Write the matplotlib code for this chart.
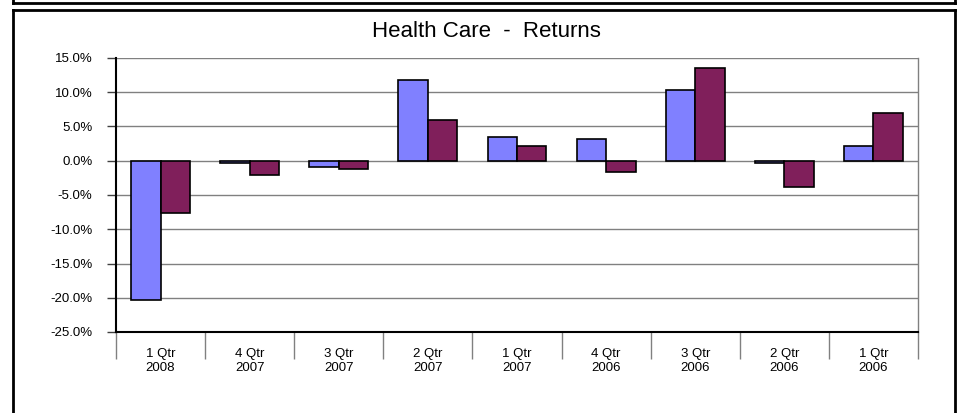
import matplotlib
matplotlib.use("Agg")
import matplotlib.pyplot as plt
from matplotlib.lines import Line2D
import numpy as np

plt.rcParams['font.family'] = ['Liberation Sans', 'DejaVu Sans']

categories = ["1 Qtr\n2008", "4 Qtr\n2007", "3 Qtr\n2007", "2 Qtr\n2007", "1 Qtr\n2007",
              "4 Qtr\n2006", "3 Qtr\n2006", "2 Qtr\n2006", "1 Qtr\n2006"]
series_a = [-20.4, -0.4, -0.9, 11.8, 3.4, 3.2, 10.4, -0.3, 2.2]
series_b = [-7.7, -2.1, -1.25, 6.0, 2.2, -1.6, 13.6, -3.9, 6.9]
yticks = [15, 10, 5, 0, -5, -10, -15, -20, -25]
title = "Health Care  -  Returns"

W, H = 965, 413
fig = plt.figure(figsize=(W/100, H/100), dpi=100)
ax = fig.add_axes([116/W, 1-332/H, (918-116)/W, (332-58)/H])

x = np.arange(len(categories))
bw = 0.33
ax.bar(x - bw/2, series_a, bw, color='#8080FF', edgecolor='black', linewidth=1.2, zorder=3)
ax.bar(x + bw/2, series_b, bw, color='#801F5B', edgecolor='black', linewidth=1.2, zorder=3)

ax.set_xlim(-0.5, len(categories) - 0.5)
ax.set_ylim(-25, 15)
ax.set_yticks(yticks)
ax.set_yticklabels([f"{v:.1f}%" for v in yticks], fontsize=9.5)
ax.yaxis.grid(True, color='#808080', linewidth=1.0, zorder=0)
ax.tick_params(axis='y', length=6.5, width=1.0, color='#404040', pad=10.5)

# category boundaries as major ticks, labels at minor ticks
ax.set_xticks(np.arange(len(categories) + 1) - 0.5)
ax.set_xticklabels([])
ax.tick_params(axis='x', which='major', length=19.5, width=1.0, color='#808080')
ax.set_xticks(x, minor=True)
ax.set_xticklabels(categories, minor=True, fontsize=9.5, linespacing=1.25)
ax.tick_params(axis='x', which='minor', length=0, pad=11.5)

for s in ['left', 'bottom']:
    ax.spines[s].set_color('black')
    ax.spines[s].set_linewidth(1.5)
ax.spines['right'].set_color('#808080')
ax.spines['right'].set_linewidth(1.0)
ax.spines['top'].set_visible(False)

fig.text(486/W, 1-37/H, title, ha='center', va='baseline', fontsize=16)

# outer boxes
lw = 2.0
fig.add_artist(Line2D([13/W, 955/W], [1-2.5/H, 1-2.5/H], color='black', lw=lw))
fig.add_artist(Line2D([13/W, 13/W], [1, 1-2.5/H], color='black', lw=lw))
fig.add_artist(Line2D([955/W, 955/W], [1, 1-2.5/H], color='black', lw=lw))
fig.add_artist(Line2D([13/W, 955/W], [1-10/H, 1-10/H], color='black', lw=lw))
fig.add_artist(Line2D([13/W, 13/W], [0, 1-10/H], color='black', lw=lw))
fig.add_artist(Line2D([955/W, 955/W], [0, 1-10/H], color='black', lw=lw))

fig.savefig("out.png", dpi=100)
